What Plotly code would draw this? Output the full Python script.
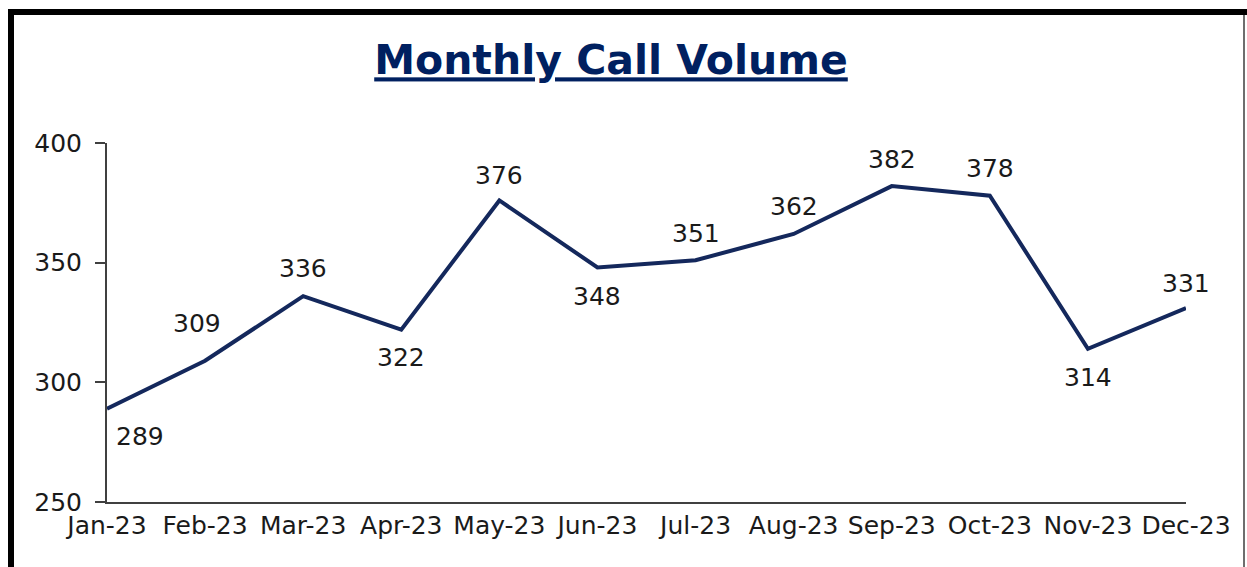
import plotly.graph_objects as go

months = ["Jan-23", "Feb-23", "Mar-23", "Apr-23", "May-23", "Jun-23",
          "Jul-23", "Aug-23", "Sep-23", "Oct-23", "Nov-23", "Dec-23"]
calls = [289, 309, 336, 322, 376, 348, 351, 362, 382, 378, 314, 331]
y_ticks = [250, 300, 350, 400]

# label offsets in pixels (style only)
label_dx = [33, -8, 0, 0, 0, 0, 0, 0, 0, 0, 0, 0]
label_dy = [-28, 37, 28, -28, 25, -29, 27, 27, 27, 27, -29, 25]

W, H = 1247, 567
L, R, T, B = 107, 1186, 143, 502
NAVY = "#14285C"
FONT = "DejaVu Sans"

fig = go.Figure()
fig.add_trace(go.Scatter(
    x=months, y=calls, mode="lines",
    line=dict(color=NAVY, width=4),
    hoverinfo="x+y", showlegend=False,
))

for m, v, dx, dy in zip(months, calls, label_dx, label_dy):
    fig.add_annotation(x=m, y=v, text=str(v), showarrow=False,
                       xshift=dx, yshift=dy,
                       font=dict(family=FONT, size=25, color="#1a1a1a"))

def px_x(p):
    return (p - L) / (R - L)

def px_y(p):
    return (B - p) / (B - T)

shapes = [
    # thick black left and top border
    dict(type="line", xref="paper", yref="paper",
         x0=px_x(11), x1=px_x(11), y0=px_y(12), y1=px_y(600),
         line=dict(color="black", width=6)),
    dict(type="line", xref="paper", yref="paper",
         x0=px_x(8), x1=px_x(1260), y0=px_y(12), y1=px_y(12),
         line=dict(color="black", width=6)),
    # thin grey right border
    dict(type="line", xref="paper", yref="paper",
         x0=px_x(1244), x1=px_x(1244), y0=px_y(15), y1=px_y(600),
         line=dict(color="#6e6e6e", width=2)),
]

fig.update_layout(
    width=W, height=H,
    margin=dict(l=L, r=W - R, t=T, b=H - B, pad=0),
    paper_bgcolor="white", plot_bgcolor="white",
    font=dict(family=FONT, size=25, color="#1a1a1a"),
    title=dict(text="<b><u>Monthly Call Volume</u></b>",
               x=611 / W, xref="container", xanchor="center",
               y=1 - 60 / H, yref="container", yanchor="middle",
               font=dict(family=FONT, size=41, color="#002060")),
    shapes=shapes,
    xaxis=dict(type="category", range=[0, 11], showgrid=False,
               showline=True, linecolor="#404040", linewidth=2,
               ticks="", tickfont=dict(size=25, color="#1a1a1a"),
               zeroline=False, fixedrange=True),
    yaxis=dict(range=[250, 400], tickvals=y_ticks, showgrid=False,
               showline=True, linecolor="#404040", linewidth=2,
               ticks="outside", ticklen=10, tickwidth=2, tickcolor="#404040",
               ticklabelstandoff=8,
               tickfont=dict(size=25, color="#1a1a1a"),
               zeroline=False, fixedrange=True),
)

fig.write_html("out.html",
               config={"displayModeBar": False},
               post_script="document.body.style.margin='0';"
                           "document.body.style.overflow='hidden';")
